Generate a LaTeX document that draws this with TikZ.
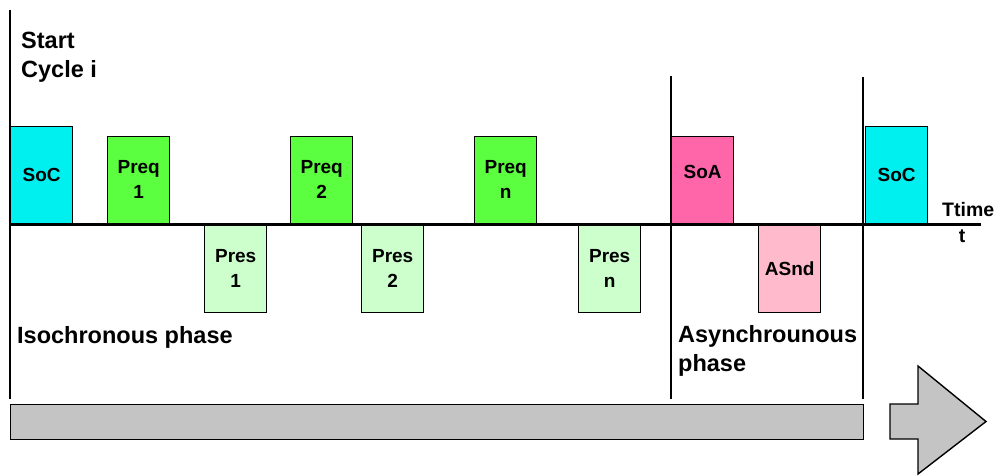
\documentclass[tikz,border=0pt]{standalone}
\usepackage{fontspec}
\setmainfont{Liberation Sans}
\begin{document}
\begin{tikzpicture}[x=1pt,y=-1pt,
  frame/.style={draw=black,line width=1.4pt,inner sep=0pt,align=center,
    minimum width=62pt,font=\fontsize{19}{25}\selectfont\bfseries},
  upbox/.style={frame,anchor=south west},
  downbox/.style={frame,anchor=north west},
  phaseline/.style={line width=1.3pt},
  bigtext/.style={inner sep=0pt,anchor=west,align=left,font=\fontsize{23.5}{29}\selectfont\bfseries},
  smalltext/.style={inner sep=0pt,font=\fontsize{19.5}{24}\selectfont\bfseries}]
\definecolor{socc}{RGB}{0,240,240}
\definecolor{preqc}{RGB}{92,255,64}
\definecolor{presc}{RGB}{204,255,204}
\definecolor{soac}{RGB}{255,102,170}
\definecolor{asndc}{RGB}{255,187,204}
\definecolor{barc}{RGB}{196,196,196}
\useasboundingbox (0,0) rectangle (996,475);
% phase lines
\coordinate (l1t) at (10,10);   \coordinate (l1b) at (10,399);
\coordinate (l2t) at (671,76);  \coordinate (l2b) at (671,399);
\coordinate (l3t) at (863,77);  \coordinate (l3b) at (863,399);
\draw[phaseline] (l1t) -- (l1b);
\draw[phaseline] (l2t) -- (l2b);
\draw[phaseline] (l3t) -- (l3b);
% boxes
\node[upbox,fill=socc,minimum height=97pt] (soc1) at (10,224) {SoC};
\node[upbox,fill=preqc,minimum height=87pt] (preq1) at (107,224) {Preq\\1};
\node[downbox,fill=presc,minimum height=88pt] (pres1) at (204,224) {Pres\\1};
\node[upbox,fill=preqc,minimum height=87pt] (preq2) at (290,224) {Preq\\2};
\node[downbox,fill=presc,minimum height=88pt] (pres2) at (361,224) {Pres\\2};
\node[upbox,fill=preqc,minimum height=87pt] (preqn) at (474,224) {Preq\\n};
\node[downbox,fill=presc,minimum height=88pt] (presn) at (578,224) {Pres\\n};
\node[upbox,fill=soac,minimum height=87pt] (soa) at (671,224) {\raisebox{6pt}[0.72em][0.2em]{SoA}};
\node[downbox,fill=asndc,minimum height=88pt] (asnd) at (758,224) {ASnd};
\node[upbox,fill=socc,minimum height=97pt] (soc2) at (865,224) {SoC};
% time axis
\coordinate (ax0) at (10,224);
\coordinate (ax1) at (981,224);
\draw[line width=3pt] (ax0) -- (ax1);
\node[smalltext,anchor=west] (ttime) at (942,210) {Ttime};
\node[smalltext] (tt) at (962,236) {t};
% labels
\node[bigtext] (start) at (21,57) {Start\\Cycle i};
\node[bigtext] (iso) at (17,337) {Isochronous phase};
\node[bigtext] (async) at (678,351) {Asynchrounous\\phase};
% bottom bar and arrow
\node[draw=black,line width=1.4pt,fill=barc,inner sep=0pt,minimum width=853pt,
  minimum height=35pt,anchor=north west] (bar) at (10,404) {};
\draw[line width=1.4pt,fill=barc] (890,404) -- (918,404) -- (918,366) -- (986,421.5)
  -- (918,474) -- (918,439) -- (890,439) -- cycle;
\end{tikzpicture}
\end{document}
